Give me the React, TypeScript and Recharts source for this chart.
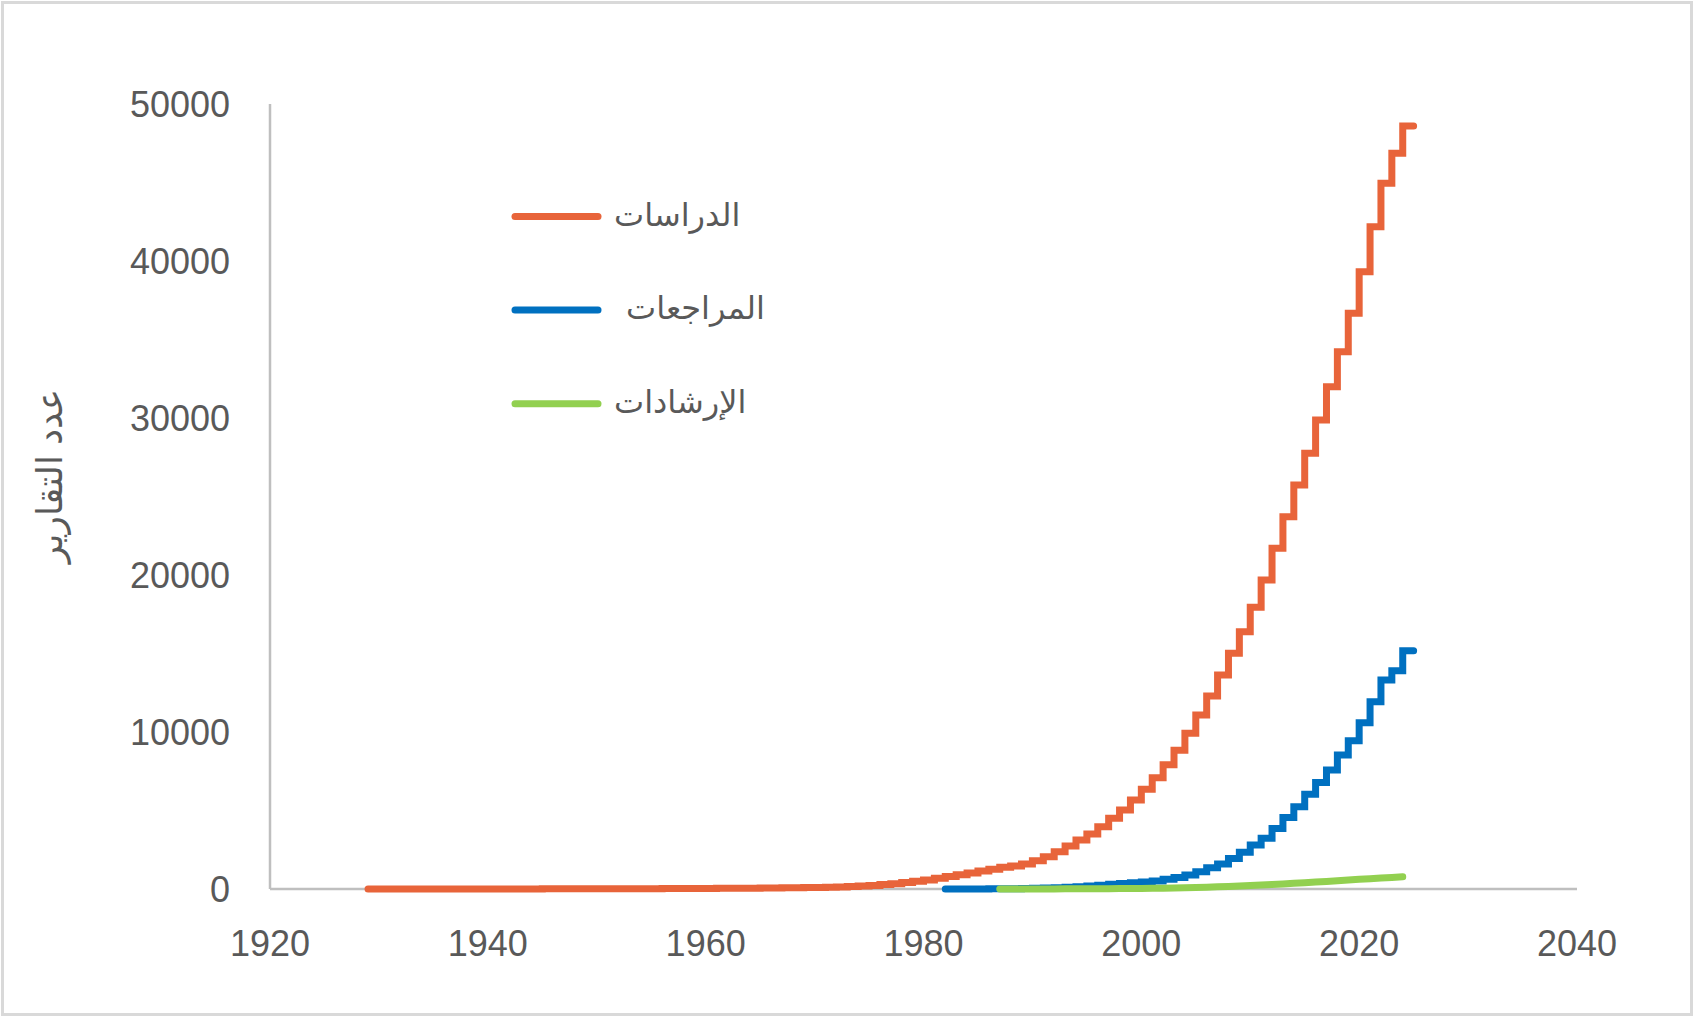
import { LineChart, Line, XAxis, YAxis } from "recharts"

// cumulative counts per year
const studiesStart = 1929
const studies = [
  1, 1, 1, 2, 2, 2, 3, 3, 3, 4, 4, 5, 5, 6, 6, 7, 8, 9, 10, 11, 12,
  13, 15, 16, 18, 20, 22, 24, 27, 30, 33, 36, 40, 44, 48, 53, 59, 65, 72, 80, 90,
  100, 115, 135, 160, 190, 230, 280, 340, 410, 490, 580, 680, 790, 900, 1020, 1140,
  1260, 1380, 1470, 1600, 1800, 2060, 2380, 2740, 3120, 3500, 3970, 4500, 5030, 5670,
  6350, 7090, 7920, 8830, 9920, 11080, 12290, 13630, 15010, 16390, 17940, 19680,
  21700, 23710, 25730, 27750, 29870, 31990, 34220, 36670, 39320, 42180, 44950,
  46860, 48600, 48600,
]

const reviewsStart = 1982
const reviews = [
  0, 2, 4, 7, 10, 15, 22, 30, 42, 58, 80, 110, 150, 195, 245, 300, 350, 400, 450,
  510, 620, 740, 890, 1100, 1360, 1590, 1950, 2340, 2800, 3230, 3860, 4560, 5240,
  6030, 6790, 7580, 8530, 9450, 10590, 11930, 13310, 13900, 15180, 15180,
]

const guidelinesStart = 1987
const guidelines = [
  0, 1, 2, 3, 5, 7, 9, 12, 15, 19, 23, 28, 33, 39, 46, 55, 66, 80, 96, 115, 137,
  162, 190, 220, 252, 288, 325, 362, 400, 440, 482, 525, 570, 615, 660, 705, 740, 775,
]

const xTicks = [1920, 1940, 1960, 1980, 2000, 2020, 2040]
const yTicks = [0, 10000, 20000, 30000, 40000, 50000]

const seriesNames = ["الدراسات", "المراجعات", "الإرشادات"]
const seriesColors = ["#E8643A", "#0070C0", "#92D050"]
const yTitle = "عدد التقارير"

const toRows = (start: number, values: number[]) =>
  values.map((v, i) => ({ year: start + i, value: v }))

const textColor = "#595959"
const axisColor = "#bfbfbf"
const font = "'Liberation Sans', Arial, 'DejaVu Sans', sans-serif"
const lineWidth = 7

const YTick = ({ y, payload }: any) => (
  <text x={230} y={y} dy={13} textAnchor="end" fill={textColor} fontSize={36} fontFamily={font}>
    {payload.value}
  </text>
)

const XTick = ({ x, payload }: any) => (
  <text x={x} y={956} textAnchor="middle" fill={textColor} fontSize={36} fontFamily={font}>
    {payload.value}
  </text>
)

export default function App() {
  return (
    <div style={{ position: "absolute", left: 0, top: 0, width: 1697, height: 1018, background: "#fff" }}>
      <div
        style={{
          position: "absolute", left: 1, top: 1, width: 1692, height: 1015,
          border: "3px solid #d9d9d9", boxSizing: "border-box",
        }}
      />
      {/* x axis line drawn underneath so the series sit on top of it */}
      <svg width={1697} height={1018} style={{ position: "absolute", left: 0, top: 0 }}>
        <line x1={270} x2={1577} y1={889} y2={889} stroke={axisColor} strokeWidth={2.5} />
      </svg>
      <LineChart
        width={1697}
        height={1018}
        margin={{ top: 104, right: 120, bottom: 69, left: 0 }}
        style={{ position: "absolute", left: 0, top: 0 }}
      >
        <XAxis
          type="number"
          dataKey="year"
          domain={[1920, 2040]}
          ticks={xTicks}
          height={60}
          tickLine={false}
          axisLine={false}
          tick={<XTick />}
        />
        <YAxis
          type="number"
          domain={[0, 50000]}
          ticks={yTicks}
          width={270}
          tickLine={false}
          axisLine={{ stroke: axisColor, strokeWidth: 2.5 }}
          tick={<YTick />}
        />
        <Line
          data={toRows(studiesStart, studies)}
          dataKey="value"
          type="stepAfter"
          stroke={seriesColors[0]}
          strokeWidth={lineWidth}
          strokeLinecap="round"
          dot={false}
          isAnimationActive={false}
        />
        <Line
          data={toRows(reviewsStart, reviews)}
          dataKey="value"
          type="stepAfter"
          stroke={seriesColors[1]}
          strokeWidth={lineWidth}
          strokeLinecap="round"
          dot={false}
          isAnimationActive={false}
        />
        <Line
          data={toRows(guidelinesStart, guidelines)}
          dataKey="value"
          type="linear"
          stroke={seriesColors[2]}
          strokeWidth={lineWidth}
          strokeLinecap="round"
          dot={false}
          isAnimationActive={false}
        />
      </LineChart>
      <svg width={1697} height={1018} style={{ position: "absolute", left: 0, top: 0, pointerEvents: "none" }}>
        <text
          x={49}
          y={476}
          transform="rotate(-90 49 476)"
          textAnchor="middle"
          dominantBaseline="central"
          fill={textColor}
          fontSize={36}
          fontFamily={font}
        >
          {yTitle}
        </text>
        {seriesNames.map((name, i) => {
          const cy = 216.5 + i * 93.6
          return (
            <g key={name}>
              <line x1={515} x2={598} y1={cy} y2={cy} stroke={seriesColors[i]} strokeWidth={lineWidth} strokeLinecap="round" />
              <text
                x={i === 1 ? 626 : 614}
                y={cy}
                dy={9}
                textAnchor="start"
                fill={textColor}
                fontSize={32}
                fontFamily={font}
              >
                {name}
              </text>
            </g>
          )
        })}
      </svg>
    </div>
  )
}
